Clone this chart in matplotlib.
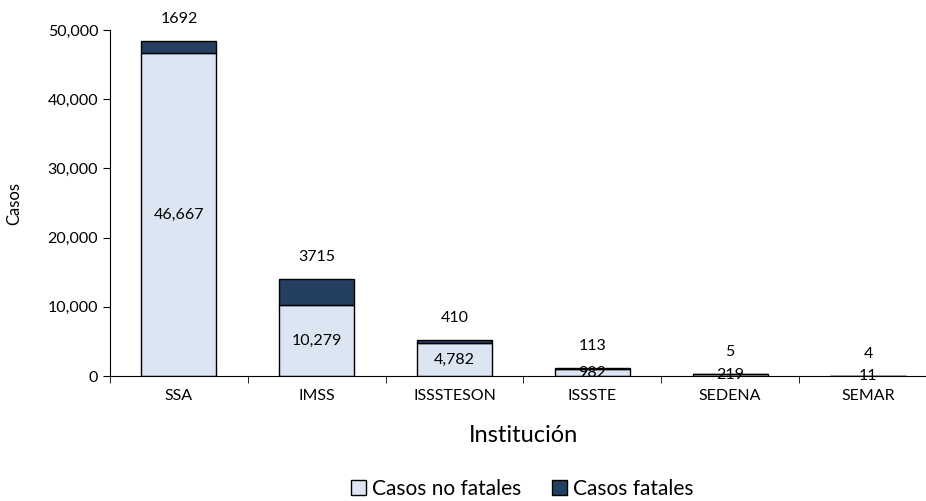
import numpy as np
import matplotlib.pyplot as plt
from matplotlib.ticker import FuncFormatter, FixedLocator

plt.rcParams['font.family'] = ['Lato', 'DejaVu Sans']

instituciones = ['SSA', 'IMSS', 'ISSSTESON', 'ISSSTE', 'SEDENA', 'SEMAR']
no_fatales = [46667, 10279, 4782, 982, 219, 11]
fatales = [1692, 3715, 410, 113, 5, 4]

x = np.arange(len(instituciones))
light = '#dce6f2'
dark = '#243f60'

fig = plt.figure(figsize=(9.26, 5.01), dpi=100)
ax = fig.add_axes([0.1188, 0.2495, 0.893, 0.6905])

b1 = ax.bar(x, no_fatales, width=0.545, color=light, edgecolor='black', linewidth=1, label='Casos no fatales')
b2 = ax.bar(x, fatales, width=0.545, bottom=no_fatales, color=dark, edgecolor='black', linewidth=1, label='Casos fatales')

for i in range(len(x)):
    ax.text(x[i], no_fatales[i] / 2, f'{no_fatales[i]:,}', ha='center', va='center', fontsize=11.5)
    ax.annotate(str(fatales[i]), (x[i], no_fatales[i] + fatales[i]), xytext=(0, 16),
                textcoords='offset points', ha='center', va='center', fontsize=11.5)

ax.set_xlim(-0.5, 5.5)
ax.set_ylim(0, 50000)
ax.set_yticks(range(0, 50001, 10000))
ax.yaxis.set_major_formatter(FuncFormatter(lambda v, p: f'{int(v):,}'))
ax.set_xticks(x)
ax.set_xticklabels(instituciones)
ax.xaxis.set_minor_locator(FixedLocator(np.arange(-0.5, 6, 1.0)))
ax.tick_params(axis='x', which='major', length=0, labelsize=11.5, pad=9)
ax.tick_params(axis='x', which='minor', length=5, direction='out')
ax.tick_params(axis='y', length=5, labelsize=11.5)

ax.spines['top'].set_visible(False)
ax.spines['right'].set_visible(False)

ax.set_ylabel('Casos', fontsize=12, labelpad=18)
ax.set_xlabel('Institución', fontsize=17, labelpad=16)

fig.legend(handles=[b1, b2], loc='lower center', bbox_to_anchor=(0.564, -0.033), ncol=2,
           frameon=False, fontsize=15, handlelength=0.7, handleheight=0.7,
           handletextpad=0.3, columnspacing=1.5)

fig.savefig('out.png', dpi=100)
